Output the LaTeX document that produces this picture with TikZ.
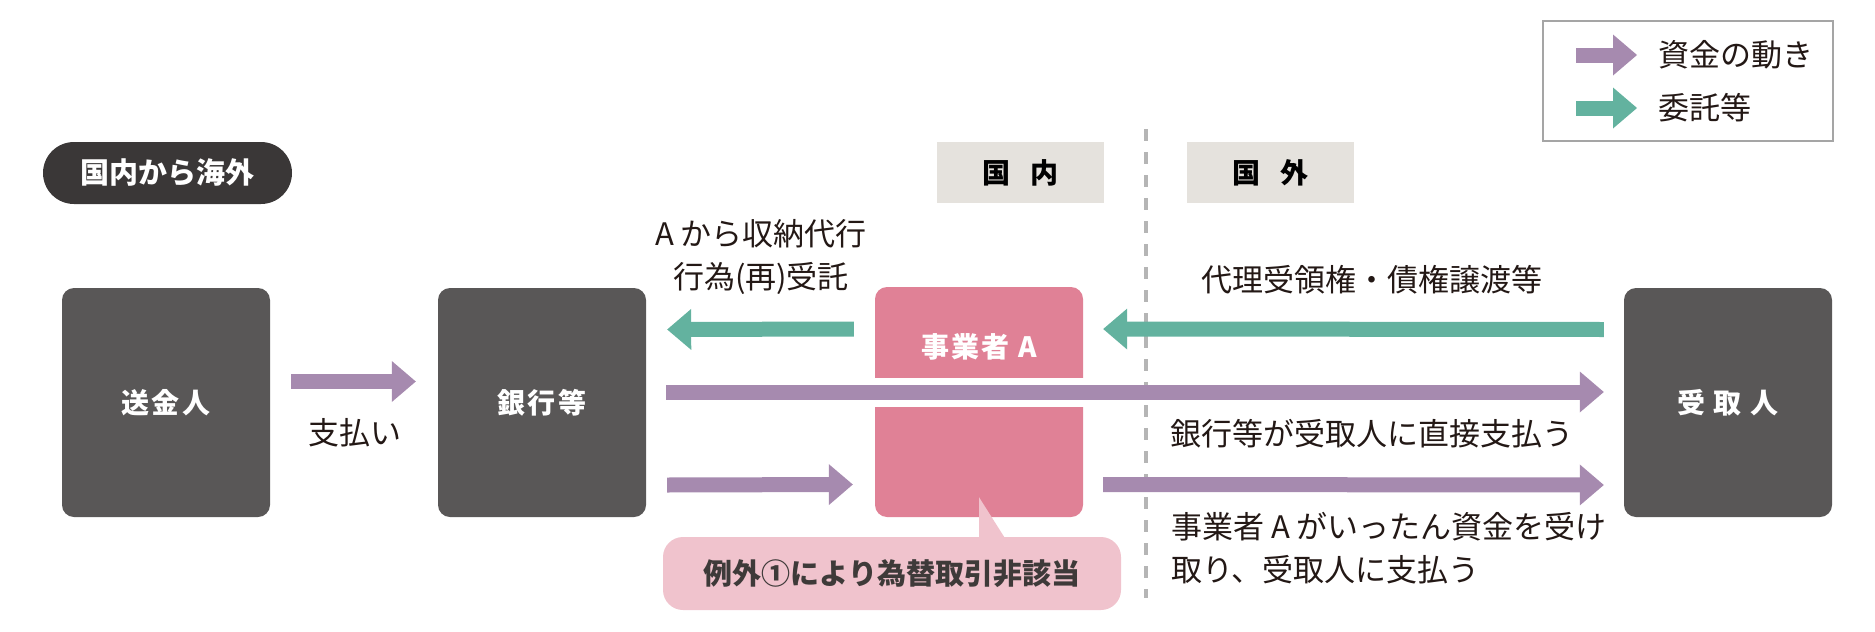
\documentclass[tikz,border=0pt]{standalone}
\usepackage{fontspec}
\setmainfont{Noto Sans CJK JP}
\usetikzlibrary{calc, arrows.meta}
\definecolor{boxgray}{HTML}{595757}
\definecolor{pilldark}{HTML}{3A3737}
\definecolor{agentpink}{HTML}{E08196}
\definecolor{notepink}{HTML}{F0C3CD}
\definecolor{notetext}{HTML}{3E3A39}
\definecolor{moneypurple}{HTML}{A68AAF}
\definecolor{trustgreen}{HTML}{63B29F}
\definecolor{areagray}{HTML}{E5E2DD}
\definecolor{borderline}{HTML}{B5B5B5}
\definecolor{legendgray}{HTML}{A5A5A5}
\definecolor{inkblack}{HTML}{231815}

\begin{document}
\begin{tikzpicture}[x=1pt, y=-1pt,
  actor/.style={fill=boxgray, rounded corners=12pt, minimum width=208pt, minimum height=229pt, inner sep=0pt},
  boxtext/.style={text=white, font=\bfseries\fontsize{28}{34}\selectfont\addfontfeature{LetterSpace=8}},
  flowtext/.style={text=inkblack, font=\fontsize{31}{43}\selectfont, inner sep=0pt},
  area/.style={fill=areagray, minimum width=167pt, minimum height=61pt, inner sep=0pt, font=\bfseries\fontsize{28}{34}\selectfont},
  money/.style={draw=moneypurple, line width=15pt, -{Triangle[length=24pt, width=41pt, line width=0pt]}},
  trust/.style={draw=trustgreen, line width=15pt, -{Triangle[length=24pt, width=41pt, line width=0pt]}}]
  \useasboundingbox (0,0) rectangle (1875,632);

  \draw[borderline, line width=4pt, dash pattern=on 12pt off 11pt] (1146,129) -- (1146,598);

  \node[fill=pilldark, rounded corners=31pt, minimum width=249pt, minimum height=62pt, inner sep=0pt, text=white, font=\bfseries\fontsize{29}{34}\selectfont] (route) at (167.5,173) {国内から海外};
  \node[area] (domestic) at (1020.5,172.5) {国\hspace{20pt}内};
  \node[area] (overseas) at (1270.5,172.5) {国\hspace{20pt}外};

  \node[draw=legendgray, line width=2pt, minimum width=290pt, minimum height=120pt, inner sep=0pt] (legend) at (1688,81) {};
  \node[flowtext, anchor=west] (legmoney) at (1658,55) {資金の動き};
  \node[flowtext, anchor=west] (legtrust) at (1658,108) {委託等};
  \draw[money] ($(legmoney.west)+(-82,0)$) -- ($(legmoney.west)+(-21,0)$);
  \draw[trust] ($(legtrust.west)+(-82,0)$) -- ($(legtrust.west)+(-21,0)$);

  \node[actor] (sender) at (166,402.5) {};
  \node[boxtext] at (sender) {送金人};
  \node[actor] (bank) at (542,402.5) {};
  \node[boxtext] at (bank) {銀行等};
  \node[actor] (payee) at (1728,402.5) {};
  \node[boxtext] at (payee) {受 取 人};

  \node[actor, fill=agentpink, minimum height=230pt] (agent) at (979,402) {};
  \fill[white] ($(agent.west)+(-2,-24)$) rectangle ($(agent.east)+(2,5)$);
  \node[boxtext] (agentname) at ($(agent.north)+(0,60)$) {事業者 A};

  \node[fill=notepink, rounded corners=20pt, minimum width=458pt, minimum height=73pt, inner sep=0pt, text=notetext, font=\bfseries\fontsize{29}{34}\selectfont] (exception) at (892,573.5) {例外①により為替取引非該当};
  \fill[notepink] ($(agent.south)+(0,-20)$) -- ($(exception.north)+(87,3)$) -- ($(exception.north)+(114,3)$) -- cycle;

  \draw[money] ($(sender.east)+(21,-21)$) -- ($(bank.west)+(-22,-21)$);
  \node[flowtext] (paylabel) at (355,433) {支払い};

  \draw[trust] ($(agent.west)+(-21,-73)$) -- ($(bank.east)+(21,-73)$);
  \node[flowtext, align=center] (agencylabel) at (761,256.5) {A から収納代行\\行為(再)受託};

  \draw[trust] ($(payee.west)+(-20,-73)$) -- ($(agent.east)+(20,-73)$);
  \node[flowtext] (assignlabel) at (1372,280) {代理受領権・債権譲渡等};

  \draw[money] ($(bank.east)+(20,-10.5)$) -- ($(payee.west)+(-20,-10.5)$);
  \node[flowtext] (directlabel) at (1372,434) {銀行等が受取人に直接支払う};

  \draw[money] ($(bank.east)+(21,82.5)$) -- ($(agent.west)+(-22,82.5)$);
  \draw[money] ($(agent.east)+(20,82.5)$) -- ($(payee.west)+(-20,82.5)$);
  \node[flowtext, align=left, anchor=west] (relaylabel) at (1171,548.5) {事業者 A がいったん資金を受け\\取り、受取人に支払う};
\end{tikzpicture}
\end{document}
